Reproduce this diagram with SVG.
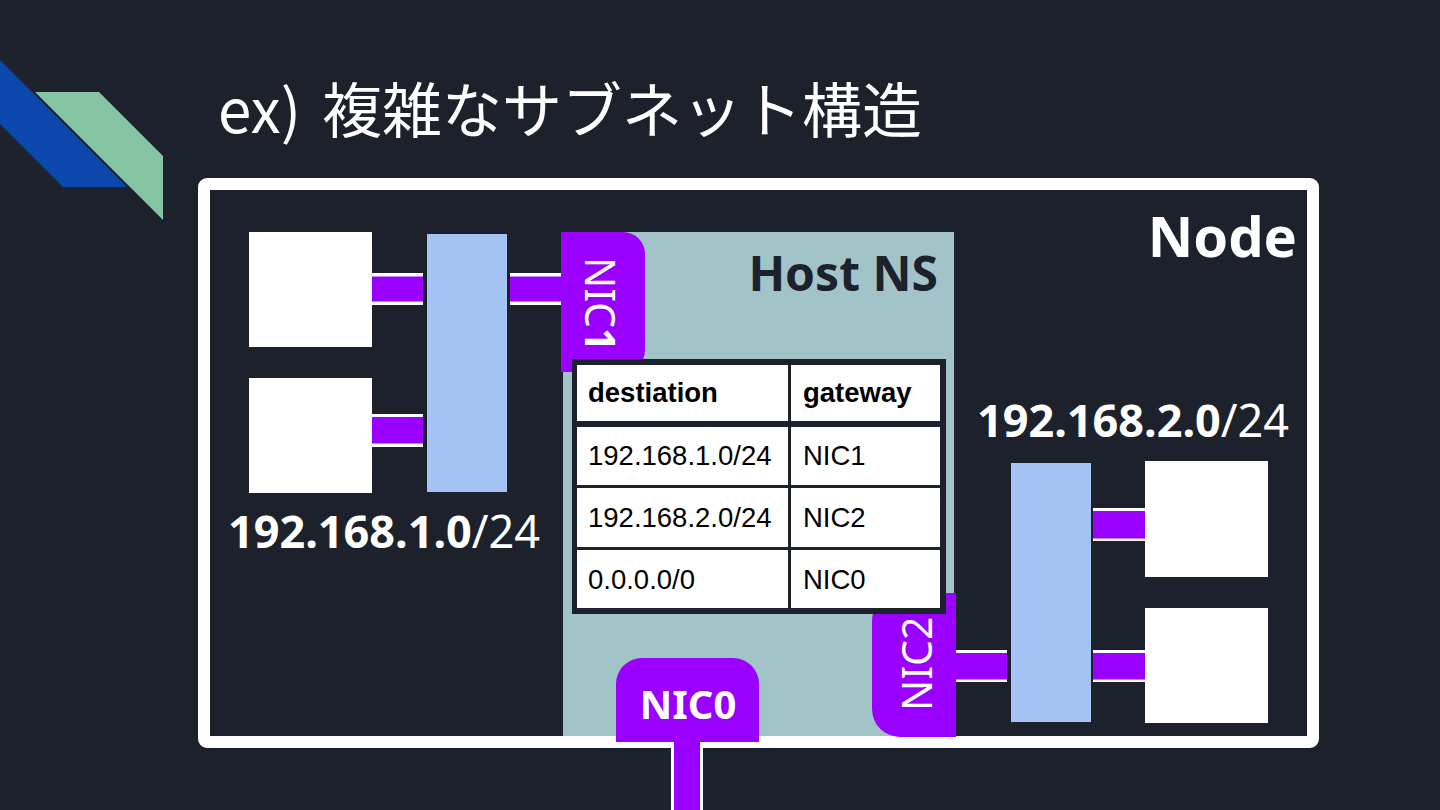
<svg xmlns="http://www.w3.org/2000/svg" width="1440" height="810" viewBox="0 0 1440 810">
  <defs>
    <style>
      .bg { fill: #1c212b; }
      .sq { fill: #ffffff; }
      .sw { fill: #a4c2f4; }
      .pur { fill: #9900ff; }
      .wht { fill: #ffffff; }
      .lbl { font-family: "Noto Sans", "Open Sans", sans-serif; fill: #ffffff; }
      .tbl { font-family: "Liberation Sans", Arial, sans-serif; fill: #000000; font-size: 27.5px; }
      .cell { fill: #ffffff; }
    </style>
  </defs>
  <rect class="bg" x="0" y="0" width="1440" height="810"/>

  <!-- decoration -->
  <g id="decoration">
    <polygon points="0,60 127,187 63,187 0,124" fill="#0b47ad"/>
    <polygon points="35,92 99,92 163,156 163,220" fill="#85c5a4"/>
  </g>

  <!-- title -->
  <text x="218" y="133" font-family="Noto Sans CJK JP, Noto Sans, sans-serif" font-size="60" fill="#ffffff"><tspan x="218">ex)</tspan><tspan x="322">複雑なサブネット構造</tspan></text>

  <!-- host namespace -->
  <g id="hostns">
    <rect x="563" y="232" width="391" height="510" fill="#a2c4c9"/>
    <text class="lbl" x="938" y="291" font-size="48" font-weight="bold" text-anchor="end" style="fill:#1c212b">Host NS</text>
  </g>

  <!-- node border -->
  <g id="node">
    <rect x="204" y="184" width="1109" height="558" rx="3" fill="none" stroke="#ffffff" stroke-width="12"/>
    <text class="lbl" x="1297" y="257" font-size="56" font-weight="bold" text-anchor="end">Node</text>
  </g>

  <!-- connectors -->
  <g id="connectors">
    <rect class="wht" x="372" y="273" width="51" height="32"/>
    <rect class="pur" x="372" y="276.5" width="51" height="25"/>
    <rect class="wht" x="372" y="414" width="51" height="33"/>
    <rect class="pur" x="372" y="417" width="51" height="26.5"/>
    <rect class="wht" x="510" y="273" width="51" height="32"/>
    <rect class="pur" x="510" y="276.5" width="51" height="25"/>
    <rect class="wht" x="956" y="650" width="51" height="32"/>
    <rect class="pur" x="956" y="653" width="51" height="26.5"/>
    <rect class="wht" x="1093" y="508" width="52" height="33"/>
    <rect class="pur" x="1093" y="511" width="52" height="27.5"/>
    <rect class="wht" x="1093" y="650" width="52" height="32"/>
    <rect class="pur" x="1093" y="653" width="52" height="26.5"/>
    <rect class="wht" x="671" y="740" width="32" height="70"/>
    <rect class="pur" x="674" y="740" width="26" height="70"/>
  </g>

  <!-- left subnet -->
  <g id="left-host-1"><rect class="sq" x="249" y="232" width="123" height="115"/></g>
  <g id="left-host-2"><rect class="sq" x="249" y="378" width="123" height="115"/></g>
  <g id="left-switch"><rect class="sw" x="427" y="234" width="80" height="258"/></g>
  <g id="left-subnet-label">
    <text class="lbl" x="228" y="548" font-size="45"><tspan font-weight="bold">192.168.1.0</tspan><tspan>/24</tspan></text>
  </g>

  <!-- right subnet -->
  <g id="right-host-1"><rect class="sq" x="1145" y="461" width="123" height="116"/></g>
  <g id="right-host-2"><rect class="sq" x="1145" y="608" width="123" height="115"/></g>
  <g id="right-switch"><rect class="sw" x="1011" y="463" width="80" height="259"/></g>
  <g id="right-subnet-label">
    <text class="lbl" x="977" y="437" font-size="45"><tspan font-weight="bold">192.168.2.0</tspan><tspan>/24</tspan></text>
  </g>

  <!-- NIC1 -->
  <g id="nic1">
    <path class="pur" d="M561,232 H623 A22,22 0 0 1 645,254 V350 A22,22 0 0 1 623,372 H561 Z"/>
    <text class="lbl" transform="translate(585,257) rotate(90)" font-size="41"><tspan>NIC</tspan><tspan font-weight="bold">1</tspan></text>
  </g>

  <!-- NIC2 -->
  <g id="nic2">
    <path class="pur" d="M900,593 H956 V737 H900 A28,28 0 0 1 872,709 V621 A28,28 0 0 1 900,593 Z"/>
    <text class="lbl" transform="translate(932,711) rotate(-90)" font-size="41">NIC2</text>
  </g>

  <!-- NIC0 -->
  <g id="nic0">
    <path class="pur" d="M616,742 V684 A26,26 0 0 1 642,658 H733 A26,26 0 0 1 759,684 V742 Z"/>
    <text class="lbl" x="688" y="719" font-size="40" font-weight="bold" text-anchor="middle">NIC0</text>
  </g>

  <!-- routing table -->
  <g id="routing-table">
    <rect x="572" y="359" width="374" height="255" fill="#1c212b"/>
    <rect class="cell" x="577" y="365" width="211" height="56"/>
    <rect class="cell" x="791" y="365" width="149" height="56"/>
    <rect class="cell" x="577" y="427" width="211" height="58"/>
    <rect class="cell" x="791" y="427" width="149" height="58"/>
    <rect class="cell" x="577" y="488" width="211" height="59"/>
    <rect class="cell" x="791" y="488" width="149" height="59"/>
    <rect class="cell" x="577" y="550" width="211" height="58"/>
    <rect class="cell" x="791" y="550" width="149" height="58"/>
    <text class="tbl" x="588" y="402" font-weight="bold" font-size="26">destiation</text>
    <text class="tbl" x="803" y="402" font-weight="bold" font-size="26">gateway</text>
    <text class="tbl" x="588" y="465">192.168.1.0/24</text>
    <text class="tbl" x="803" y="465">NIC1</text>
    <text class="tbl" x="588" y="527">192.168.2.0/24</text>
    <text class="tbl" x="803" y="527">NIC2</text>
    <text class="tbl" x="588" y="589">0.0.0.0/0</text>
    <text class="tbl" x="803" y="589">NIC0</text>
  </g>
</svg>
